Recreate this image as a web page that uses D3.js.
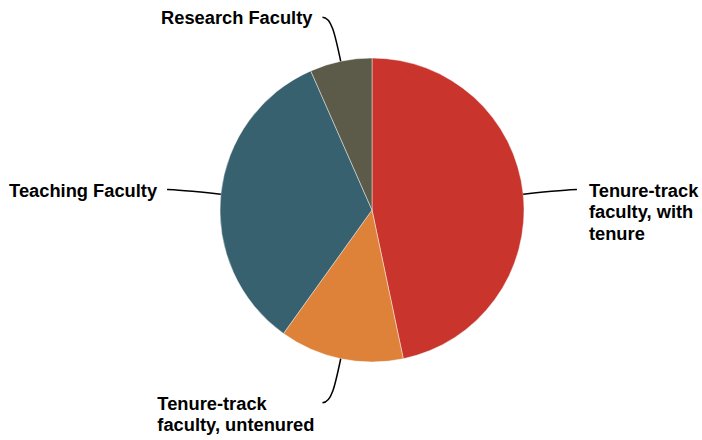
<!DOCTYPE html>
<html><head><meta charset="utf-8">
<script src="https://cdn.jsdelivr.net/npm/d3@7"></script>
<style>
html,body{margin:0;padding:0;background:#fff;}
svg{display:block;}
text{font-family:"Liberation Sans",Arial,sans-serif;font-weight:bold;font-size:18.3px;fill:#000;}
</style></head>
<body>
<svg id="chart" width="702" height="440"></svg>
<script>
const categories = ["Tenure-track faculty, with tenure", "Tenure-track faculty, untenured", "Teaching Faculty", "Research Faculty"];
const values = [46.7, 13.2, 33.5, 6.6];
const labelLines = [["Tenure-track", "faculty, with", "tenure"], ["Tenure-track", "faculty, untenured"], ["Teaching Faculty"], ["Research Faculty"]];
const colors = ["#C9342D", "#DE8139", "#37616E", "#5C5A48"];

const W = 702, H = 440, cx = 372, cy = 210, R = 152;
const svg = d3.select("#chart");
const g = svg.append("g").attr("transform", `translate(${cx},${cy})`);

const data = categories.map((c, i) => ({ name: c, value: values[i], lines: labelLines[i], color: colors[i] }));
const pie = d3.pie().value(d => d.value).sort(null);
const arcs = pie(data);
const arc = d3.arc().innerRadius(0).outerRadius(R);

g.selectAll("path.slice").data(arcs).enter().append("path")
  .attr("class", "slice")
  .attr("d", arc)
  .attr("fill", d => d.data.color)
  .attr("stroke", "rgba(255,255,255,0.55)")
  .attr("stroke-width", 0.8);

const pt = (a, r) => [r * Math.sin(a), -r * Math.cos(a)];
const lineH = 21.5;

arcs.forEach(d => {
  const a = (d.startAngle + d.endAngle) / 2;
  const side = Math.sin(a) >= 0 ? 1 : -1;
  const s = pt(a, R);
  const c1 = pt(a, R + 28);
  const elbow = pt(a, R + 45);
  const e = [elbow[0] + side * 9, elbow[1]];
  const path = d3.path();
  path.moveTo(s[0], s[1]);
  path.bezierCurveTo(c1[0], c1[1], elbow[0], elbow[1], e[0], e[1]);
  g.append("path").attr("d", path.toString())
    .attr("fill", "none").attr("stroke", "#000").attr("stroke-width", 1.5);

  const t = g.append("text");
  const lines = d.data.lines;
  if (side > 0) {
    t.attr("text-anchor", "start");
    lines.forEach((ln, i) => t.append("tspan").attr("x", e[0] + 12).attr("y", e[1] + 7 + i * lineH).text(ln));
  } else if (lines.length === 1) {
    t.attr("text-anchor", "end");
    t.append("tspan").attr("x", e[0] - 10).attr("y", e[1] + 7).text(lines[0]);
  } else {
    // left-aligned block placed to the left of the anchor
    t.attr("text-anchor", "start");
    lines.forEach((ln, i) => t.append("tspan").attr("x", 0).attr("y", e[1] + 7 + i * lineH).text(ln));
    const w = t.node().getBBox().width;
    t.selectAll("tspan").attr("x", e[0] - 8 - w);
  }
});
</script>
</body></html>
